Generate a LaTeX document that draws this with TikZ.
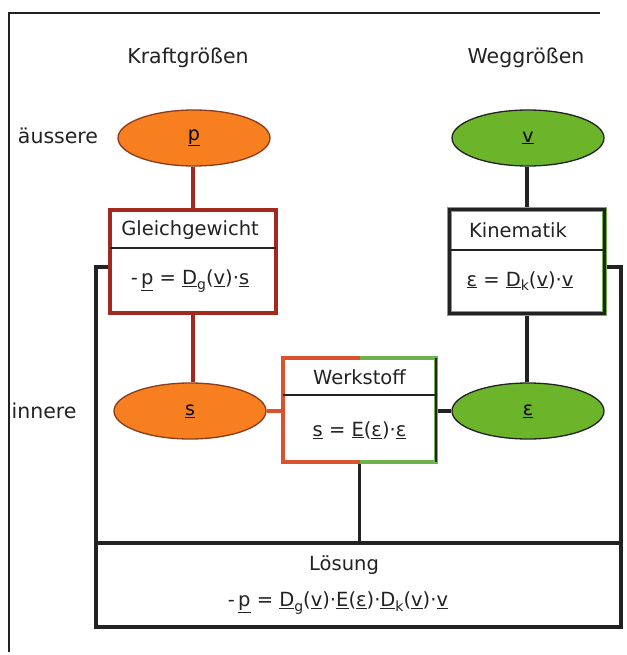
\documentclass[tikz,border=0pt]{standalone}
\usepackage{fontspec}
\setmainfont{DejaVu Sans}
\usetikzlibrary{shapes.geometric}
\definecolor{orfill}{HTML}{F77F1F}
\definecolor{orline}{HTML}{8B3A1A}
\definecolor{grfill}{HTML}{6CB52A}
\definecolor{dred}{HTML}{A3291F}
\definecolor{lred}{HTML}{D9532F}
\definecolor{lgreen}{HTML}{6DB24A}
\definecolor{ink}{HTML}{222222}
\newcommand{\ul}[1]{\underline{#1}}
\newcommand{\lowsub}[1]{\raisebox{-0.45ex}{\fontsize{14}{14}\selectfont #1}}
\tikzset{
  lbl/.style={font=\fontsize{20.5}{24}\selectfont, text=ink, inner sep=0pt},
  frm/.style={font=\fontsize{19.5}{23}\selectfont, text=ink, inner sep=0pt},
  ell/.style={ellipse, minimum width=152pt, minimum height=56pt, inner sep=0pt, line width=1.3pt, font=\fontsize{19}{22}\selectfont},
  orell/.style={ell, fill=orfill, draw=orline},
  grell/.style={ell, fill=grfill, draw=ink},
  boxnode/.style={rectangle, fill=white, inner sep=0pt},
  sepline/.style={draw=ink, line width=1.3pt},
  blk/.style={draw=ink, line width=3.5pt},
  redc/.style={draw=dred, line width=3.5pt},
}
\begin{document}
\begin{tikzpicture}[x=1pt,y=-1pt]
\useasboundingbox (0,0) rectangle (626,655);
% outer frame
\draw[ink, line width=1.2pt] (600,13) -- (9,13) -- (9,652);

% headings
\node[lbl] (kraft) at (188,58) {Kraftgrößen};
\node[lbl] (weg) at (526,58) {Weggrößen};
\node[lbl] (aus) at (58,136) {äussere};
\node[lbl] (inn) at (44,411) {innere};

% ellipses
\node[orell] (p) at (194,138) {\ul{p}};
\node[grell] (v) at (528,138) {\ul{v}};
\node[orell] (s) at (190,411) {\ul{s}};
\node[grell] (eps) at (528,411) {\ul{ε}};

% boxes
\node[boxnode, minimum width=166pt, minimum height=103pt] (gg) at (193,261.5) {};
\node[boxnode, minimum width=154pt, minimum height=103pt] (kin) at (527,261.5) {};
\node[boxnode, minimum width=153pt, minimum height=104pt] (wk) at (359.5,410) {};
\node[boxnode, minimum width=525pt, minimum height=84pt] (los) at (358.5,585) {};

% connectors
\draw[redc] (gg.north) -- (gg.north |- p.south);
\draw[redc] (gg.south) -- (gg.south |- s.north);
\draw[blk] (kin.north) -- (kin.north |- v.south);
\draw[blk] (kin.south) -- (kin.south |- eps.north);
\draw[draw=lred, line width=3.5pt] (s.east) -- (wk.west |- s.east);
\draw[blk] (eps.west) -- (wk.east |- eps.west);
\draw[blk] (wk.south) -- (wk.south |- los.north);
\draw[blk] (gg.west |- 0,267) -| (los.north west);
\draw[blk] (kin.east |- 0,267) -| (los.north east);

% box borders
\draw[redc] (gg.north west) rectangle (gg.south east);
\draw[sepline] (gg.west |- 0,248) -- (gg.east |- 0,248);
\node[frm] (ggt) at (190,230) {Gleichgewicht};
\node[frm] (ggf) at (190,281) {-\,\ul{p} = \ul{D}\lowsub{g}(\ul{v})·\ul{s}};

\draw[draw=lgreen, line width=5pt] (kin.north west) rectangle (kin.south east);
\draw[blk, line width=3pt] (kin.north west) rectangle (kin.south east);
\draw[sepline] (kin.west |- 0,250) -- (kin.east |- 0,250);
\node[frm] (kint) at (518,230) {Kinematik};
\node[frm] (kinf) at (520,281) {\ul{ε} = \ul{D}\lowsub{k}(\ul{v})·\ul{v}};

\draw[draw=lred, line width=3.5pt] (wk.north) -- (wk.north west) -- (wk.south west) -- (wk.south);
\draw[draw=lgreen, line width=3.5pt] (wk.north) -- (wk.north east) -- (wk.south east) -- (wk.south);
\draw[blk, line width=2.5pt] (wk.north east) -- (wk.south east);
\draw[sepline] (wk.west |- 0,395) -- (wk.east |- 0,395);
\node[frm] (wkt) at (359.5,377) {Werkstoff};
\node[frm] (wkf) at (359.5,430) {\ul{s} = \ul{E}(\ul{ε})·\ul{ε}};

\draw[blk] (los.north west) rectangle (los.south east);
\node[frm] (lost) at (344,565) {Lösung};
\node[frm] (losf) at (338,603) {-\,\ul{p} = \ul{D}\lowsub{g}(\ul{v})·\ul{E}(\ul{ε})·\ul{D}\lowsub{k}(\ul{v})·\ul{v}};
\end{tikzpicture}
\end{document}
